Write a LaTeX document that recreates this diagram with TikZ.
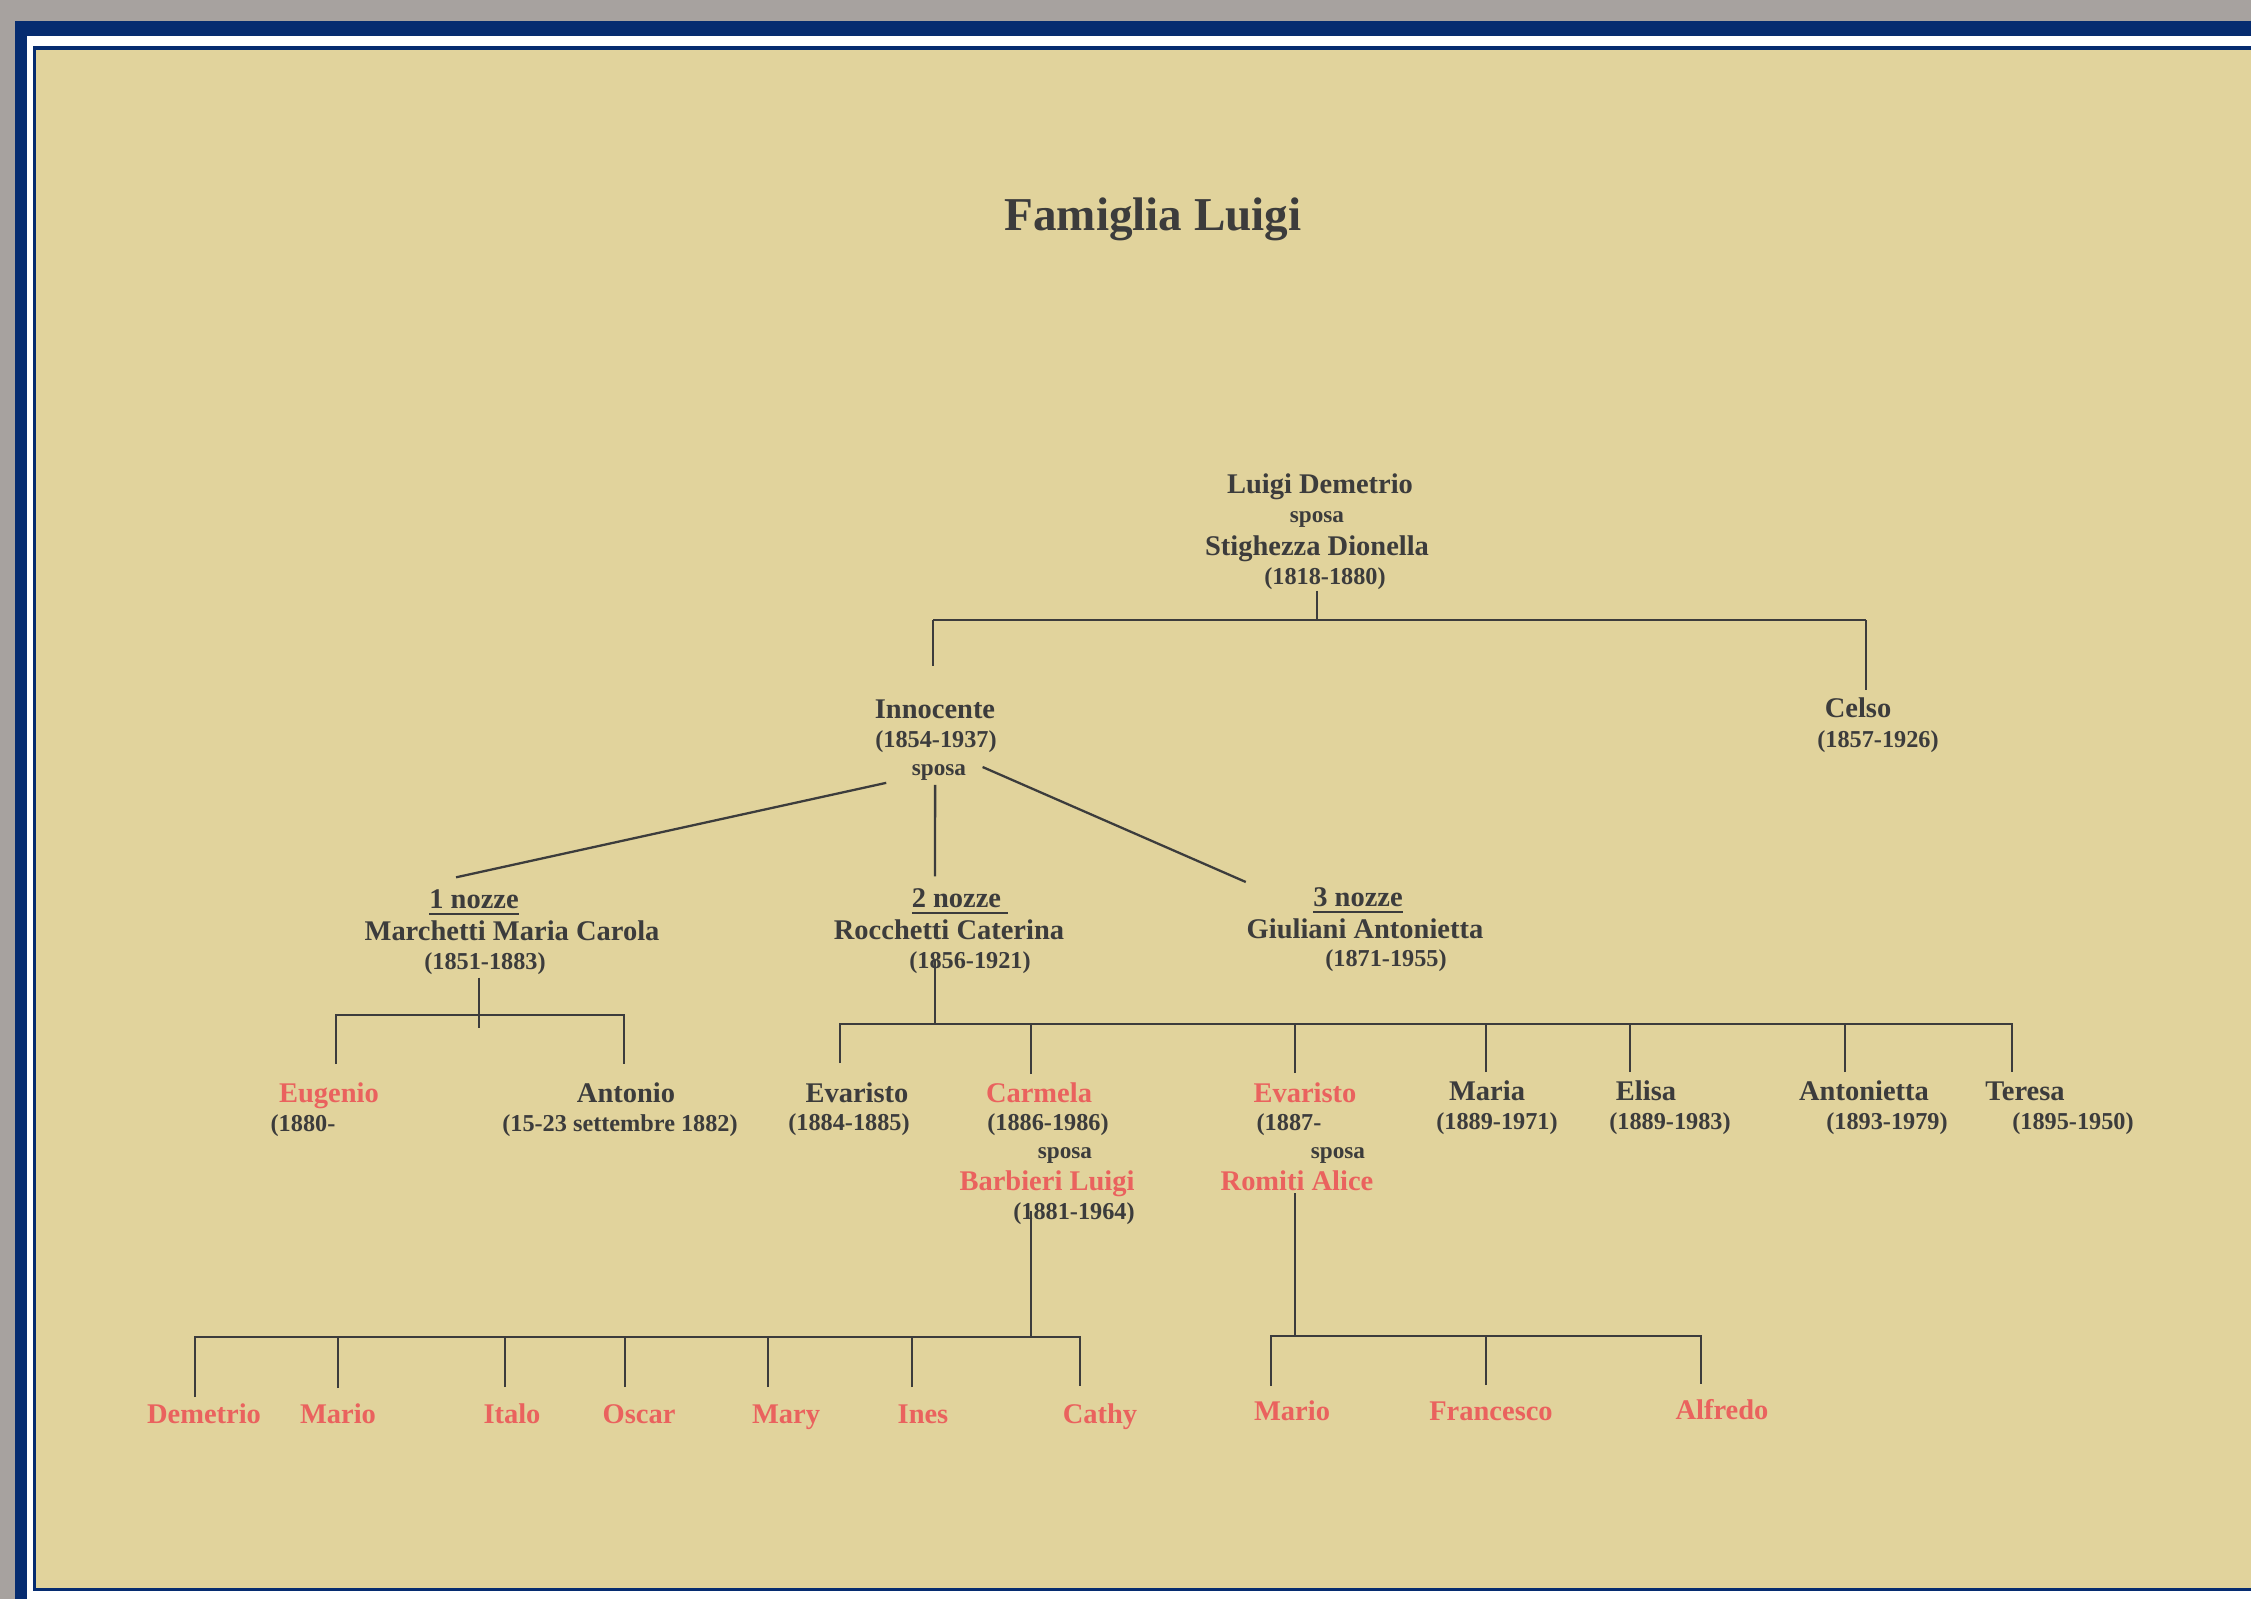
\documentclass[tikz,border=0pt]{standalone}
\usepackage{fontspec}
\setmainfont{Liberation Serif}
\usepackage{tikz}
\definecolor{framegray}{RGB}{167,162,159}
\definecolor{darkblue}{RGB}{6,44,112}
\definecolor{parchment}{RGB}{225,211,156}
\definecolor{inkgray}{RGB}{60,60,60}
\definecolor{rosered}{RGB}{234,98,94}

\begin{document}
\begin{tikzpicture}[x=0.01cm, y=-0.01cm,
            person/.style={inner sep=0pt, text height=0.68em, text depth=0pt, text=inkgray, font=\bfseries\fontsize{8.1}{9}\selectfont},
            kin/.style={person, text=rosered},
            years/.style={inner sep=0pt, text height=0.5em, text depth=0pt, text=inkgray, font=\bfseries\fontsize{6.9}{8}\selectfont},
            wed/.style={inner sep=0pt, text height=0.46em, text depth=0pt, text=inkgray, font=\bfseries\fontsize{6.6}{7}\selectfont},
            heading/.style={inner sep=0pt, text=inkgray, font=\bfseries\fontsize{13.4}{16}\selectfont},
            link/.style={draw=inkgray, line width=0.65pt}
        ]
        \useasboundingbox (0,0) rectangle (2251,1599);
        \fill[framegray] (0,0) rectangle (2251,1599);
        \fill[darkblue] (15,21) rectangle (2251,1599);
        \fill[white] (27,36) rectangle (2251,1599);
        \fill[darkblue] (33,46) rectangle (2251,1591);
        \fill[parchment] (36,50) rectangle (2251,1588);

        \node[heading] (title) at (1153,219) {Famiglia Luigi};

        \node[person] (luigi) at (1320,482) {Luigi Demetrio};
        \node[wed] (luigiSp) at (1317,514) {sposa};
        \node[person] (stighezza) at (1317,544) {Stighezza Dionella};
        \node[years] (luigiYr) at (1325,576) {(1818-1880)};

        \node[person] (innocente) at (935,707) {Innocente};
        \node[years] (innocenteYr) at (936,739) {(1854-1937)};
        \node[wed] (innocenteSp) at (939,767) {sposa};
        \node[person] (celso) at (1858,706) {Celso};
        \node[years] (celsoYr) at (1878,739) {(1857-1926)};

        \coordinate (famJ) at (1317,620);
        \coordinate (famL) at (933,620);
        \coordinate (famR) at (1866,620);
        \draw[link, shorten <=1.5pt] (luigiYr.south -| famJ) -- (famJ);
        \draw[link] (famL) -- (famR);
        \draw[link, shorten >=8pt] (famL) -- (famL |- innocente.north);
        \draw[link, shorten >=1pt] (famR) -- (famR |- celso.north);

        \node[person] (nozzeA) at (474,897) {\underline{1 nozze}};
        \node[person] (marchetti) at (512,929) {Marchetti Maria Carola};
        \node[years] (marchettiYr) at (485,961) {(1851-1883)};
        \node[person] (nozzeB) at (960,896) {\underline{2 nozze\ }};
        \node[person] (rocchetti) at (949,928) {Rocchetti Caterina};
        \node[years] (rocchettiYr) at (970,960) {(1856-1921)};
        \node[person] (nozzeC) at (1358,895) {\underline{3 nozze}};
        \node[person] (giuliani) at (1365,927) {Giuliani Antonietta};
        \node[years] (giulianiYr) at (1386,958) {(1871-1955)};

        \draw[link] ([xshift=-7.1pt,yshift=-4.5pt]innocenteSp.west) -- ([xshift=-5.1pt,yshift=2pt]nozzeA.north);
        \draw[link] ([xshift=-1.1pt,yshift=-2.6pt]innocenteSp.south) -- ([xshift=-7.1pt,yshift=2pt]nozzeB.north);
        \draw[link] ([xshift=4.5pt]innocenteSp.east) -- ([xshift=-19pt,yshift=3.7pt]nozzeC.west);

        \node[kin] (eugenio) at (329,1091) {Eugenio};
        \node[years] (eugenioYr) at (303,1123) {(1880-};
        \node[person] (antonio) at (626,1091) {Antonio};
        \node[years] (antonioYr) at (620,1123) {(15-23 settembre 1882)};

        \coordinate (marJ) at (479,1015);
        \coordinate (eugenioTop) at (336,1064);
        \coordinate (antonioTop) at (624,1064);
        \draw[link, shorten <=2pt, shorten >=-3.7pt] (marchettiYr.south -| marJ) -- (marJ);
        \draw[link] (eugenioTop) |- (antonioTop |- marJ) -- (antonioTop);

        \node[person] (evaristoA) at (857,1091) {Evaristo};
        \node[years] (evaristoAYr) at (849,1122) {(1884-1885)};
        \node[kin] (carmela) at (1039,1091) {Carmela};
        \node[years] (carmelaYr) at (1048,1122) {(1886-1986)};
        \node[wed] (carmelaSp) at (1065,1150) {sposa};
        \node[kin] (barbieri) at (1047,1179) {Barbieri Luigi};
        \node[years] (barbieriYr) at (1074,1211) {(1881-1964)};
        \node[kin] (evaristoB) at (1305,1091) {Evaristo};
        \node[years] (evaristoBYr) at (1289,1122) {(1887-};
        \node[wed] (evaristoBSp) at (1338,1150) {sposa};
        \node[kin] (romiti) at (1297,1179) {Romiti Alice};
        \node[person] (maria) at (1487,1089) {Maria};
        \node[years] (mariaYr) at (1497,1121) {(1889-1971)};
        \node[person] (elisa) at (1646,1089) {Elisa};
        \node[years] (elisaYr) at (1670,1121) {(1889-1983)};
        \node[person] (antonietta) at (1864,1089) {Antonietta};
        \node[years] (antoniettaYr) at (1887,1121) {(1893-1979)};
        \node[person] (teresa) at (2025,1089) {Teresa};
        \node[years] (teresaYr) at (2073,1121) {(1895-1950)};

        \coordinate (rocJ) at (935,1024);
        \coordinate (evaristoATop) at (840,1063);
        \coordinate (carmelaTop) at (1031,1074);
        \coordinate (evaristoBTop) at (1295,1073);
        \coordinate (mariaTop) at (1486,1072);
        \coordinate (elisaTop) at (1630,1072);
        \coordinate (antoniettaTop) at (1845,1072);
        \coordinate (teresaTop) at (2012,1072);
        \draw[link] (rocchettiYr.center -| rocJ) -- (rocJ);
        \draw[link] (evaristoATop) |- (teresaTop |- rocJ) -- (teresaTop);
        \draw[link] (carmelaTop) -- (carmelaTop |- rocJ);
        \draw[link] (evaristoBTop) -- (evaristoBTop |- rocJ);
        \draw[link] (mariaTop) -- (mariaTop |- rocJ);
        \draw[link] (elisaTop) -- (elisaTop |- rocJ);
        \draw[link] (antoniettaTop) -- (antoniettaTop |- rocJ);

        \node[kin] (demetrio) at (204,1412) {Demetrio};
        \node[kin] (marioA) at (338,1412) {Mario};
        \node[kin] (italo) at (512,1412) {Italo};
        \node[kin] (oscar) at (639,1412) {Oscar};
        \node[kin] (mary) at (786,1412) {Mary};
        \node[kin] (ines) at (923,1412) {Ines};
        \node[kin] (cathy) at (1100,1412) {Cathy};

        \coordinate (carJ) at (1031,1337);
        \coordinate (demetrioTop) at (195,1397);
        \coordinate (marioATop) at (338,1388);
        \coordinate (italoTop) at (505,1387);
        \coordinate (oscarTop) at (625,1387);
        \coordinate (maryTop) at (768,1387);
        \coordinate (inesTop) at (912,1387);
        \coordinate (cathyTop) at (1080,1386);
        \draw[link] (barbieriYr.center -| carJ) -- (carJ);
        \draw[link] (demetrioTop) |- (cathyTop |- carJ) -- (cathyTop);
        \draw[link] (marioATop) -- (marioATop |- carJ);
        \draw[link] (italoTop) -- (italoTop |- carJ);
        \draw[link] (oscarTop) -- (oscarTop |- carJ);
        \draw[link] (maryTop) -- (maryTop |- carJ);
        \draw[link] (inesTop) -- (inesTop |- carJ);

        \node[kin] (marioB) at (1292,1409) {Mario};
        \node[kin] (francesco) at (1491,1409) {Francesco};
        \node[kin] (alfredo) at (1722,1408) {Alfredo};

        \coordinate (romJ) at (1295,1336);
        \coordinate (marioBTop) at (1271,1386);
        \coordinate (francescoTop) at (1486,1385);
        \coordinate (alfredoTop) at (1701,1384);
        \draw[link, shorten <=0.5pt] (romiti.south -| romJ) -- (romJ);
        \draw[link] (marioBTop) |- (alfredoTop |- romJ) -- (alfredoTop);
        \draw[link] (francescoTop) -- (francescoTop |- romJ);
        \end{tikzpicture}
\end{document}
